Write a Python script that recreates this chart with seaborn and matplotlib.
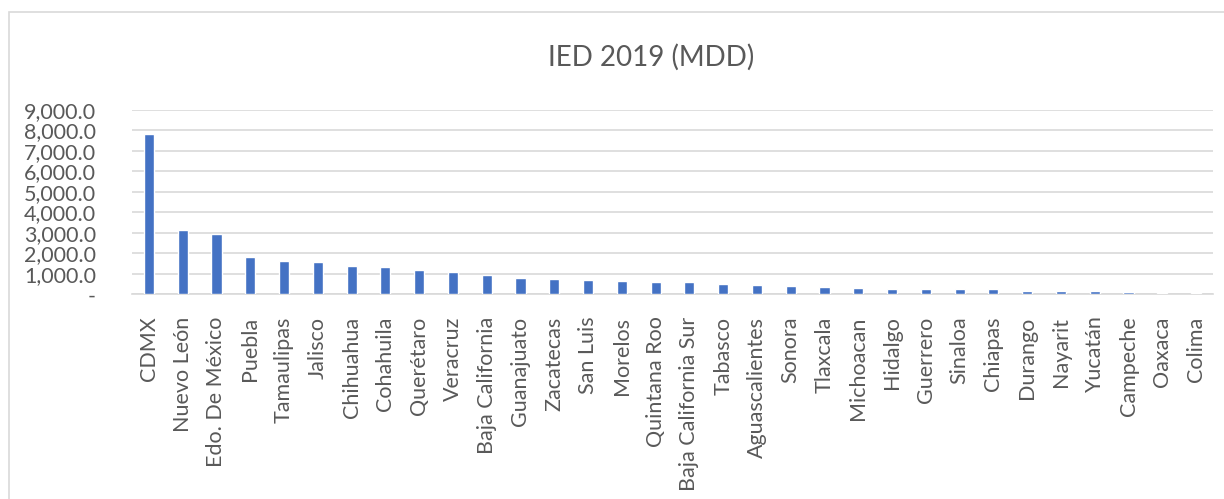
import matplotlib
matplotlib.use("Agg")
import matplotlib.pyplot as plt
import seaborn as sns
import pandas as pd
from matplotlib.patches import Rectangle
from matplotlib.ticker import FuncFormatter

states = ["CDMX", "Nuevo León", "Edo. De México", "Puebla", "Tamaulipas", "Jalisco",
          "Chihuahua", "Cohahuila", "Querétaro", "Veracruz", "Baja California",
          "Guanajuato", "Zacatecas", "San Luis", "Morelos", "Quintana Roo",
          "Baja California Sur", "Tabasco", "Aguascalientes", "Sonora", "Tlaxcala",
          "Michoacan", "Hidalgo", "Guerrero", "Sinaloa", "Chiapas", "Durango",
          "Nayarit", "Yucatán", "Campeche", "Oaxaca", "Colima"]
ied = [7840, 3120, 2950, 1830, 1610, 1560, 1380, 1330, 1200, 1090, 940,
       810, 750, 700, 650, 620, 580, 490, 450, 410, 340, 310, 280, 260,
       260, 240, 160, 150, 150, 130, 60, 50]

title = "IED 2019 (MDD)"
yticks = [0, 1000, 2000, 3000, 4000, 5000, 6000, 7000, 8000, 9000]

sns.set_theme(style="white")
plt.rcParams['font.family'] = ['Lato', 'DejaVu Sans']

df = pd.DataFrame({"state": states, "ied": ied})

fig = plt.figure(figsize=(12.24, 4.99), dpi=100)
ax = fig.add_axes([132 / 1224, 1 - 294.3 / 499, (1213 - 132) / 1224, (294.3 - 110) / 499])

sns.barplot(data=df, x="state", y="ied", color="#4472C4", width=0.3, ax=ax,
            saturation=1, zorder=3)

ax.set_ylim(0, 9000)
ax.set_xlim(-0.5, len(states) - 0.5)
ax.set_yticks(yticks)
ax.yaxis.set_major_formatter(FuncFormatter(lambda v, p: "-" if v == 0 else f"{v:,.1f}"))
ax.grid(axis="y", color="#d9d9d9", linewidth=1.2, zorder=0)
ax.set_axisbelow(True)
for s in ["top", "right", "left"]:
    ax.spines[s].set_visible(False)
ax.spines["bottom"].set_color("#d9d9d9")
ax.spines["bottom"].set_linewidth(1.2)
ax.tick_params(axis="both", length=0, colors="#595959", labelsize=15.5)
ax.tick_params(axis="y", pad=26)
ax.tick_params(axis="x", pad=16)
plt.setp(ax.get_xticklabels(), rotation=90)
ax.set_xlabel("")
ax.set_ylabel("")

fig.text(651 / 1224, 1 - 57 / 499, title, ha="center", va="center",
         fontsize=20, color="#595959")

fig.patches.append(Rectangle((8.5 / 1224, -0.2), 1.2, 1.2 - 11.5 / 499 + 0.0,
                             transform=fig.transFigure, fill=False,
                             edgecolor="#d9d9d9", linewidth=1.2))

fig.savefig("out.png", dpi=100, facecolor="white")
